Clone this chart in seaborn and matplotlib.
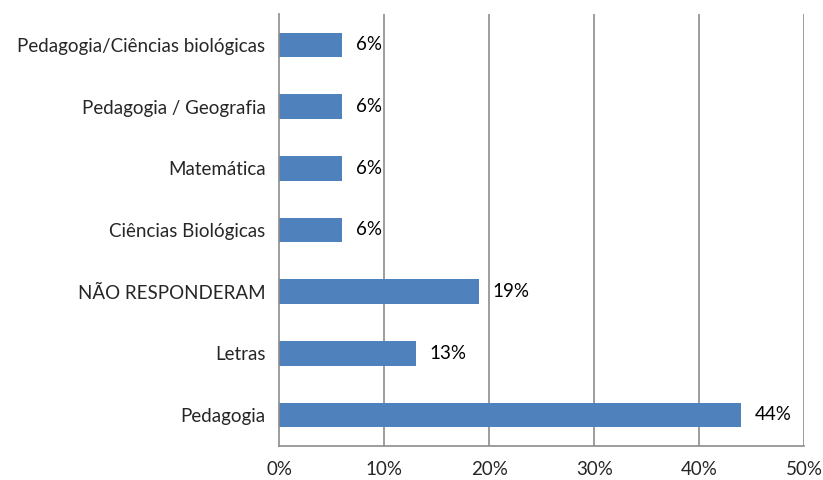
import matplotlib
matplotlib.use("Agg")
import matplotlib.pyplot as plt
from matplotlib.ticker import FixedLocator, PercentFormatter
import seaborn as sns
import pandas as pd

# Dados do gráfico
cursos = [
    "Pedagogia/Ciências biológicas",
    "Pedagogia / Geografia",
    "Matemática",
    "Ciências Biológicas",
    "NÃO RESPONDERAM",
    "Letras",
    "Pedagogia",
]
percentuais = [6, 6, 6, 6, 19, 13, 44]
xticks = [0, 10, 20, 30, 40, 50]

df = pd.DataFrame({"curso": cursos, "pct": percentuais})

sns.set_style("white")
plt.rcParams["font.family"] = ["Lato", "DejaVu Sans"]

fig = plt.figure(figsize=(8.23, 4.8), dpi=100)
ax = fig.add_axes([0.3394, 0.0715, 0.9773 - 0.3394, 0.9708 - 0.0715])

sns.barplot(data=df, x="pct", y="curso", order=cursos, color="#4F81BD",
            saturation=1, width=0.4, linewidth=0, ax=ax, zorder=3)

ax.set_xlim(0, 50)
ax.set_ylim(len(cursos) - 0.5, -0.5)
ax.set_xticks(xticks)
ax.xaxis.set_major_formatter(PercentFormatter(decimals=0))
ax.set_xlabel("")
ax.set_ylabel("")

# linhas de grade verticais
for v in xticks[1:]:
    ax.axvline(v, color="#8C8C8C", linewidth=1.2, zorder=1)

for s in ["top", "right"]:
    ax.spines[s].set_visible(False)
for s in ["left", "bottom"]:
    ax.spines[s].set_color("#8C8C8C")
    ax.spines[s].set_linewidth(1.2)
    ax.spines[s].set_zorder(4)

ax.tick_params(axis="y", which="major", length=0, pad=10, labelsize=13.5)
ax.yaxis.set_minor_locator(FixedLocator([i - 0.5 for i in range(len(cursos) + 1)]))
ax.tick_params(axis="y", which="minor", length=7, width=1.2, color="#8C8C8C")
ax.tick_params(axis="x", which="major", length=7, width=1.2, color="#8C8C8C",
               labelsize=13.5, pad=4)

# rótulos dos valores
for i, v in enumerate(percentuais):
    ax.annotate(f"{v}%", xy=(v, i), xytext=(10, 0), textcoords="offset points",
                va="center", ha="left", fontsize=13.5, color="black")

fig.savefig("out.png", dpi=100)
